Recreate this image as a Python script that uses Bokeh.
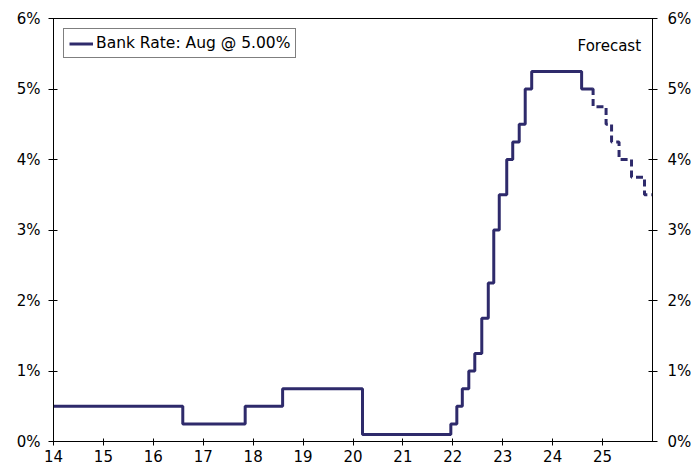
from bokeh.plotting import figure
from bokeh.models import (Range1d, LinearAxis, FixedTicker, PrintfTickFormatter,
                          Label, Legend, LegendItem)
from bokeh.embed import file_html
from bokeh.resources import INLINE

# ---- data (decimal years, % rates) ----
hist_dates = [14.0, 16.59, 17.84, 18.59, 20.19, 21.96, 22.08, 22.19, 22.32, 22.44,
              22.58, 22.71, 22.82, 22.93, 23.08, 23.20, 23.33, 23.45, 23.58, 24.58, 24.79]
hist_rates = [0.50, 0.25, 0.50, 0.75, 0.10, 0.25, 0.50, 0.75, 1.00, 1.25,
              1.75, 2.25, 3.00, 3.50, 4.00, 4.25, 4.50, 5.00, 5.25, 5.00, 5.00]
fc_dates = [24.79, 24.81, 25.07, 25.18, 25.33, 25.58, 25.84, 26.0]
fc_rates = [5.00, 4.75, 4.50, 4.25, 4.00, 3.75, 3.50, 3.50]
x_ticks = [14, 15, 16, 17, 18, 19, 20, 21, 22, 23, 24, 25]
y_ticks = [0, 1, 2, 3, 4, 5, 6]
legend_text = "Bank Rate: Aug @ 5.00%"
forecast_text = "Forecast"
forecast_pos = (25.77, 5.61)

LINE = "#2E2A6B"
FONT = "DejaVu Sans"
FS = "15px"

p = figure(width=694, height=468, output_backend="svg", toolbar_location=None,
           x_range=Range1d(14, 26), y_range=Range1d(0, 6),
           min_border_left=53, min_border_right=41, min_border_top=18, min_border_bottom=27)
p.background_fill_color = "white"
p.border_fill_color = "white"
p.outline_line_color = "black"
p.outline_line_width = 1
p.grid.visible = False

r1 = p.step(hist_dates, hist_rates, mode="after", line_color=LINE, line_width=3)
r2 = p.step(fc_dates, fc_rates, mode="after", line_color=LINE, line_width=3, line_dash="7 4")

def style(ax):
    ax.axis_line_color = "black"
    ax.major_tick_line_color = "black"
    ax.minor_tick_line_color = None
    ax.major_label_text_font = FONT
    ax.major_label_text_font_size = FS
    ax.major_label_text_color = "black"

xa = p.xaxis[0]
xa.ticker = FixedTicker(ticks=x_ticks)
xa.major_label_standoff = 4
xa.major_tick_in = 3
xa.major_tick_out = 4
style(xa)

ya = p.yaxis[0]
ya.ticker = FixedTicker(ticks=y_ticks)
ya.formatter = PrintfTickFormatter(format="%d%%")
ya.major_label_standoff = 8
ya.major_tick_in = 4
ya.major_tick_out = 5
style(ya)

yr = LinearAxis(ticker=FixedTicker(ticks=y_ticks), formatter=PrintfTickFormatter(format="%d%%"))
yr.major_label_standoff = 10
yr.major_tick_in = 4
yr.major_tick_out = 5
style(yr)
p.add_layout(yr, "right")

legend = Legend(items=[LegendItem(label=legend_text, renderers=[r1])],
                location="top_left", margin=10, padding=5, spacing=0,
                glyph_width=24, glyph_height=15, label_height=15, label_standoff=3,
                label_text_font=FONT, label_text_font_size="15.5px",
                label_text_color="black",
                border_line_color="black", border_line_width=1,
                background_fill_color="white", background_fill_alpha=1)
p.add_layout(legend, "center")

p.add_layout(Label(x=forecast_pos[0], y=forecast_pos[1], text=forecast_text,
                   text_align="right", text_baseline="middle",
                   text_font=FONT, text_font_size=FS, text_color="black"))

open("out.html", "w").write(file_html(p, INLINE))
